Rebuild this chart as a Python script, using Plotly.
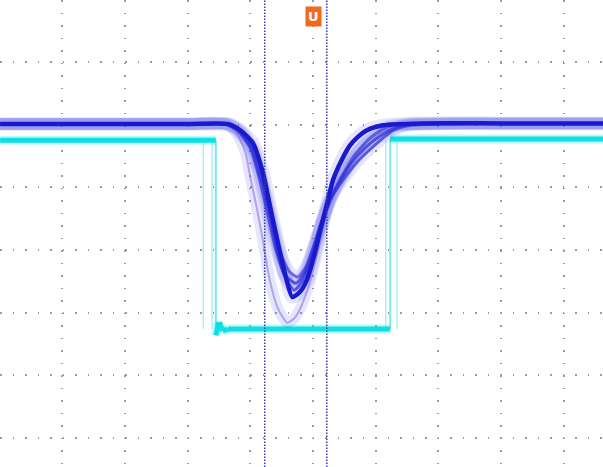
import plotly.graph_objects as go

# Time axis in ns (100 ns/div), amplitude in mV (100 mV/div, screen units)
t1 = [-499, -350, -200, -136, -116, -96, -80, -69, -57, -46, -33, -21, -10, 2, 11, 22, 32, 46, 59, 70, 86, 112, 171, 300, 463]
v1 = [201, 201, 201, 201, 191, 171, 124, 72, 16, -32, -75, -67, -48, -8, 29, 72, 112, 144, 167, 179, 191, 199, 202, 202, 202]

t2 = [-499, -350, -200, -139, -120, -100, -85, -72, -59, -45, -27, -13, 0, 11, 27, 48, 70, 86, 112, 128, 155, 300, 463]
v2 = [201, 201, 201, 201, 190, 163, 112, 56, 0, -40, -53, -35, 3, 38, 80, 112, 140, 156, 179, 191, 199, 202, 202]

t3 = [-499, -350, -200, -132, -113, -93, -77, -64, -51, -37, -24, -11, 2, 14, 30, 48, 67, 91, 115, 139, 300, 463]
v3 = [201, 201, 201, 201, 188, 156, 96, 40, -8, -35, -43, -26, 8, 45, 88, 120, 152, 179, 195, 201, 202, 202]

t4 = [-499, -350, -200, -142, -123, -108, -100, -89, -80, -69, -56, -41, -29, -18, -5, 8, 19, 35, 59, 86, 115, 139, 300, 463]
v4 = [201, 201, 201, 201, 188, 156, 116, 64, 16, -48, -93, -116, -108, -88, -51, 0, 48, 96, 144, 172, 191, 199, 202, 202]

t5 = [-499, -350, -200, -137, -118, -99, -83, -70, -59, -46, -30, -18, -5, 6, 19, 37, 59, 83, 107, 131, 155, 300, 463]
v5 = [201, 201, 201, 201, 190, 164, 115, 61, 8, -40, -64, -51, -19, 16, 57, 99, 136, 163, 182, 195, 201, 202, 202]

# Cyan channel (gate pulse)
tc = [-499, -155, -155, -150, -144, -136, 123, 123, 463]
vc = [175, 175, -136, -115, -129, -126, -126, 177, 177]
tca = [-499, -175, -175, 134, 134, 463]
vca = [175, 175, -126, -126, 177, 177]
tcb = [-499, -161, -161, 116, 116, 463]
vcb = [175, 175, -126, -126, 177, 177]

cursors = [-77, 22]
trigger_t = 0


def split_edges(tx, vy):
    """Separate vertical (fast) edges from level segments."""
    lx, ly, ex, ey = [], [], [], []
    for i in range(len(tx) - 1):
        if tx[i] == tx[i + 1]:
            ex += [tx[i], tx[i + 1], None]
            ey += [vy[i], vy[i + 1], None]
        else:
            lx += [tx[i], tx[i + 1], None]
            ly += [vy[i], vy[i + 1], None]
    return lx, ly, ex, ey


fig = go.Figure()

# cyan channel: faint acquisitions first
for tx, vy in [(tca, vca), (tcb, vcb)]:
    lx, ly, ex, ey = split_edges(tx, vy)
    fig.add_trace(go.Scatter(x=ex, y=ey, mode="lines",
                             line=dict(color="rgba(120,228,240,0.6)", width=1.5),
                             hoverinfo="skip", showlegend=False))
lx, ly, ex, ey = split_edges(tc, vc)
fig.add_trace(go.Scatter(x=ex, y=ey, mode="lines",
                         line=dict(color="rgba(90,225,235,0.8)", width=2),
                         hoverinfo="skip", showlegend=False))
fig.add_trace(go.Scatter(x=lx, y=ly, mode="lines",
                         line=dict(color="rgba(40,230,235,0.3)", width=9),
                         hoverinfo="skip", showlegend=False))
fig.add_trace(go.Scatter(x=lx, y=ly, mode="lines",
                         line=dict(color="rgb(15,222,226)", width=5),
                         hoverinfo="skip", showlegend=False))

blue = [(t4, v4, "rgba(135,105,225,0.55)", 2),
        (t2, v2, "rgba(50,50,215,0.75)", 3),
        (t3, v3, "rgba(60,60,220,0.7)", 3),
        (t5, v5, "rgba(50,50,215,0.75)", 3),
        (t1, v1, "rgb(25,25,205)", 4.5)]
for tx, vy, col, w in blue:
    fig.add_trace(go.Scatter(x=tx, y=vy, mode="lines",
                             line=dict(color="rgba(80,80,235,0.15)", width=w + 9,
                                       shape="spline", smoothing=0.6),
                             hoverinfo="skip", showlegend=False))
for tx, vy, col, w in blue:
    fig.add_trace(go.Scatter(x=tx, y=vy, mode="lines",
                             line=dict(color=col, width=w, shape="spline", smoothing=0.6),
                             hoverinfo="skip", showlegend=False))

for c in cursors:
    fig.add_vline(x=c, line=dict(color="#3c3ca8", width=1.5, dash="1.5px,1.5px"))

fig.add_annotation(x=trigger_t, xref="x", y=0.965, yref="paper", yanchor="middle",
                   text="<b>U</b>", showarrow=False,
                   font=dict(color="white", size=13, family="DejaVu Sans"),
                   bgcolor="#f06a1a", borderpad=2)

grid = dict(showgrid=True, gridcolor="#9a9a9a", gridwidth=1.5, griddash="1.5px,11px",
            zeroline=False, showticklabels=False, ticks="", showline=False, dtick=100, tick0=0)
fig.update_xaxes(range=[-499.2, 462.5], **grid)
fig.update_yaxes(range=[-346, 398.8], **grid)
fig.update_layout(width=603, height=467, margin=dict(l=0, r=0, t=0, b=0),
                  paper_bgcolor="white", plot_bgcolor="white")
fig.write_html("out.html")
